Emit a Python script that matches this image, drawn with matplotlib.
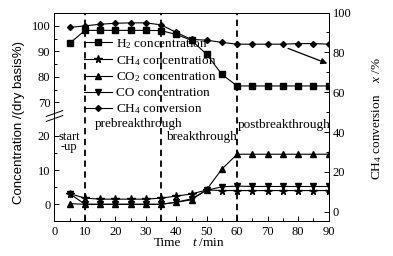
import numpy as np
import matplotlib
matplotlib.use("Agg")
import matplotlib.pyplot as plt

# ---------------- data ----------------
t = [5, 10, 15, 20, 25, 30, 35, 40, 45, 50, 55, 60, 65, 70, 75, 80, 85, 90]
h2 = [93.1, 98.2, 98.2, 98.2, 98.2, 98.2, 98.1, 96.6, 94.3, 88.8, 80.9, 76.4,
      76.4, 76.4, 76.4, 76.4, 76.4, 76.4]
ch4 = [3.1, 1.8, 1.5, 1.5, 1.5, 1.5, 1.8, 2.4, 3.0, 4.2, 4.0, 4.0,
       4.0, 4.0, 4.0, 4.0, 4.0, 4.0]
co2 = [0.2, 0.0, 0.0, 0.0, 0.0, 0.0, 0.0, 0.6, 1.3, 4.3, 10.3, 14.6,
       14.6, 14.6, 14.6, 14.6, 14.6, 14.6]
co = [3.1, 0.0, 0.0, 0.0, 0.0, 0.0, 0.0, 0.6, 1.6, 4.1, 5.1, 5.3,
      5.2, 5.2, 5.2, 5.2, 5.2, 5.2]
conv = [92.5, 93.3, 94.1, 94.6, 94.8, 94.8, 93.8, 90.0, 86.5, 86.1, 85.0, 84.1,
        84.1, 84.1, 84.1, 84.4, 84.4, 84.1]
labels = ["H$_2$ concentration", "CH$_4$ concentration", "CO$_2$ concentration",
          "CO concentration", "CH$_4$ conversion"]
stage_lines = [10, 35, 60]

# ---------------- style ----------------
SERIF = "Liberation Serif"
plt.rcParams["font.family"] = SERIF
plt.rcParams["mathtext.fontset"] = "custom"
plt.rcParams["mathtext.rm"] = SERIF
plt.rcParams["mathtext.it"] = SERIF + ":italic"
FS = 9

fig = plt.figure(figsize=(3.93, 2.56), dpi=100)
W, H = 393, 256
x0, x1 = 54.5, 328.5
ytop, ybot = 12.5, 220.5
ax = fig.add_axes([x0 / W, 1 - ybot / H, (x1 - x0) / W, (ybot - ytop) / H])

# broken (piecewise-linear) left scale
vb = np.array([-1000.0, 25.7, 64.6, 1000.0])
ub = np.array([16.2 + 3.43 * -1000.0, 16.2 + 3.43 * 25.7, 16.2 + 3.43 * 25.7 + 0.1,
               194.8 + 2.55 * (1000.0 - 100.0)])


def fwd(v):
    return np.interp(v, vb, ub)


def inv(u):
    return np.interp(u, ub, vb)


ax.set_yscale("function", functions=(fwd, inv))
ax.set_ylim(inv(0.0), inv(208.0))
ax.set_xlim(0, 90)

ax2 = ax.twinx()
ax2.set_ylim(-4.4, 99.9)

lw = 0.8
ms = 3.8
h1, = ax.plot(t, h2, "-s", color="black", lw=lw, ms=ms)
h2l, = ax.plot(t, ch4, "-*", color="black", lw=lw, ms=ms + 1.5)
h3, = ax.plot(t, co2, "-^", color="black", lw=lw, ms=ms)
h4, = ax.plot(t, co, "-v", color="black", lw=lw, ms=ms)
h5, = ax2.plot(t, conv, "-D", color="black", lw=lw, ms=ms - 0.8)

for xv in stage_lines:
    ax.axvline(xv, color="black", lw=1.3, ls=(0, (3.5, 2.5)))

# ticks
ax.set_xticks(np.arange(0, 91, 10))
ax.set_xticks(np.arange(5, 90, 10), minor=True)
ax.set_yticks([0, 10, 20, 70, 80, 90, 100])
ax.set_yticks([5, 15, 75, 85, 95], minor=True)
ax.set_yticklabels(["0", "10", "20", "70", "80", "90", "100"])
ax2.set_yticks(np.arange(0, 101, 20))
ax2.set_yticks(np.arange(10, 100, 20), minor=True)
for a in (ax, ax2):
    a.tick_params(which="major", direction="in", length=3.5, width=0.7,
                  labelsize=FS, pad=3)
    a.tick_params(which="minor", direction="in", length=2, width=0.7)
ax.tick_params(axis="x", pad=4)
ax.tick_params(top=False, right=False)
ax.yaxis.set_minor_formatter(plt.NullFormatter())

for s in ax.spines.values():
    s.set_linewidth(0.7)
for s in ax2.spines.values():
    s.set_linewidth(0.7)

# axis break marks on left spine
yb = 1 - (116 - ytop) / (ybot - ytop)
for dy in (-0.012, 0.012):
    ax.plot([-0.03, 0.03], [yb + dy - 0.014, yb + dy + 0.014], transform=ax.transAxes,
            color="black", lw=0.7, clip_on=False)

# legend
leg = ax.legend([h1, h2l, h3, h4, h5], labels, loc="upper left",
                bbox_to_anchor=(84 / W, 1 - 37 / H), bbox_transform=fig.transFigure,
                frameon=False, fontsize=FS + 0.5, handlelength=2.1,
                handletextpad=0.3, labelspacing=0.22, borderpad=0, borderaxespad=0)
leg.set_zorder(5)

# stage annotations
ax.text(4.8, 18.2, "start\n-up", ha="center", va="center", fontsize=FS,
        linespacing=0.75)
ax.text(27.6, 23.3, "prebreakthrough", ha="center", va="center", fontsize=FS + 0.5)
ax.text(48.3, 19.5, "breakthrough", ha="center", va="center", fontsize=FS + 0.5)
ax.text(75.4, 23.1, "postbreakthrough", ha="center", va="center", fontsize=FS + 0.5)

# arrow to right axis
ax2.annotate("", xy=(89.6, 74.4), xytext=(76.7, 82.0),
             arrowprops=dict(arrowstyle="-|>", color="black", lw=0.9,
                             mutation_scale=9, shrinkA=0, shrinkB=0))

# axis labels
fig.text(19 / W, 1 - 122 / H, "Concentration /(dry basis%)", rotation=90,
         ha="center", va="center", fontsize=FS + 0.5, family="Liberation Sans")
fig.text(377 / W, 1 - 137 / H, "CH$_4$ conversion", rotation=90,
         ha="center", va="center", fontsize=FS + 0.5)
fig.text(377 / W, 1 - 70 / H, "$x$ /%", rotation=90,
         ha="center", va="center", fontsize=FS + 0.5)
fig.text(167 / W, 1 - 243 / H, "Time", ha="center", va="center", fontsize=FS + 0.5)
fig.text(209 / W, 1 - 243 / H, "$t$ /min", ha="center", va="center", fontsize=FS + 0.5)

fig.savefig("out.png", dpi=100)
